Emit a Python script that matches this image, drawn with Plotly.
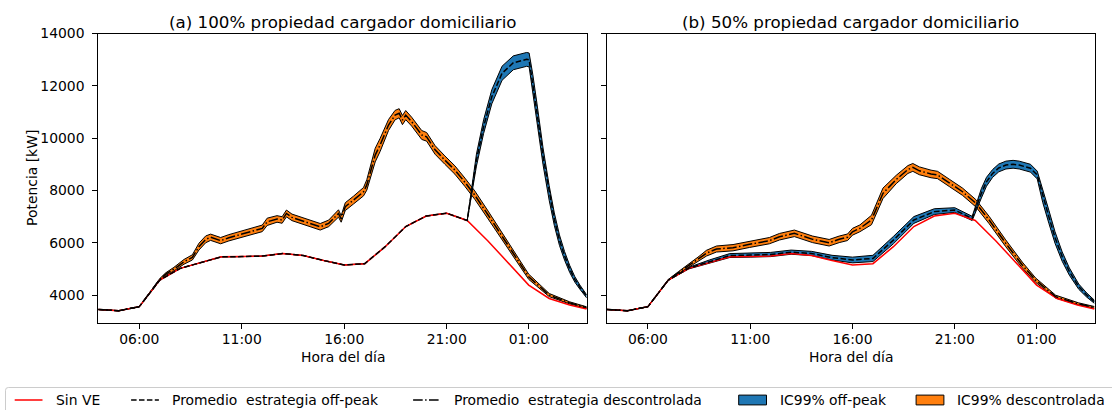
import plotly.graph_objects as go

# ---------------------------------------------------------------- data
# Hour of day (values past 24 belong to the following morning)
BASE_HOURS = [4, 5, 6, 7, 8, 9, 10, 11, 12, 13, 14, 15, 16, 17, 18, 19, 20, 21,
              22, 23, 24, 25, 26, 27, 27.83]
SIN_VE = [3450, 3400, 3555, 4570, 5020, 5240, 5460, 5470, 5490, 5590, 5510, 5320,
          5150, 5200, 5850, 6620, 7020, 7130, 6850, 6080, 5250, 4380, 3870, 3620, 3470]

# (a) 100% home-charger ownership
A_OFFPEAK_H = [4, 5, 6, 7, 8, 9, 10, 11, 12, 13, 14, 15, 16, 17, 18, 19, 20, 21, 22,
               22.45, 22.8, 23.2, 23.7, 24.25, 24.9, 25.02, 25.2, 25.4, 25.7, 26.0,
               26.25, 26.5, 26.75, 27.0, 27.25, 27.5, 27.83]
A_OFFPEAK_MEAN = [3450, 3400, 3555, 4570, 5020, 5240, 5460, 5470, 5490, 5590, 5510,
                  5320, 5150, 5200, 5850, 6620, 7020, 7130, 6850,
                  9160, 10440, 11580, 12480, 12880, 13010, 12990, 12100, 11000, 9300,
                  7900, 6900, 6100, 5500, 5000, 4600, 4300, 3950]
A_OFFPEAK_CI = [0, 0, 0, 0, 0, 0, 0, 0, 0, 0, 0, 0, 0, 0, 0, 0, 0, 0, 0,
                230, 260, 270, 270, 265, 265, 265, 330, 340, 320, 280, 240, 200, 165,
                135, 105, 80, 60]

A_UNCTRL_H = [4, 5, 6, 7, 7.29, 7.69, 8.18, 8.59, 8.91, 9.24, 9.48, 9.97, 10.37,
              10.94, 11.43, 12.0, 12.24, 12.72, 12.97, 13.18, 13.45, 14.1, 14.83,
              15.24, 15.56, 15.72, 15.85, 16.05, 16.45, 16.94, 17.1, 17.51, 17.75,
              18.16, 18.48, 18.68, 18.84, 19.0, 19.29, 19.78, 20.02, 20.43, 20.91,
              21.4, 21.89, 22.37, 23.02, 23.67, 24.24, 25.0, 26.0, 27.0, 27.83]
A_UNCTRL_MEAN = [3450, 3400, 3555, 4600, 4800, 4990, 5270, 5440, 5850, 6130, 6210,
                 6080, 6190, 6320, 6420, 6550, 6800, 6910, 6870, 7120, 6970, 6800,
                 6610, 6740, 6990, 7120, 6910, 7380, 7630, 7950, 8210, 9350, 9740,
                 10500, 10880, 10950, 10690, 10880, 10630, 10120, 10050, 9550, 9160,
                 8780, 8310, 7820, 7060, 6290, 5590, 4700, 4000, 3700, 3520]
A_UNCTRL_CI = [0, 0, 0, 30, 50, 70, 90, 100, 130, 130, 120, 120, 120, 120, 125, 125,
               140, 125, 125, 130, 125, 125, 125, 125, 140, 140, 125, 150, 150, 160,
               200, 260, 250, 210, 180, 175, 175, 175, 170, 170, 165, 165, 160, 160,
               160, 160, 150, 140, 125, 100, 60, 40, 30]

# (b) 50% home-charger ownership
B_OFFPEAK_H = [4, 5, 6, 7, 8, 9, 10, 11, 12, 13, 14, 15, 16, 17, 18, 19, 20, 21,
               21.85, 22.3, 22.55, 22.85, 23.15, 23.5, 23.85, 24.15, 24.7, 25.03,
               25.3, 25.6, 25.9, 26.25, 26.6, 27.06, 27.45, 27.83]
B_OFFPEAK_MEAN = [3450, 3400, 3555, 4570, 5030, 5280, 5510, 5530, 5550, 5640, 5590,
                  5430, 5340, 5400, 6100, 6870, 7190, 7250, 6930, 7890, 8330, 8650,
                  8860, 8970, 9000, 8970, 8850, 8590, 7800, 6990, 6200, 5470, 4900,
                  4320, 4000, 3740]
B_OFFPEAK_CI = [0, 0, 0, 0, 30, 60, 75, 80, 80, 80, 80, 90, 110, 120, 140, 130, 110,
                90, 80, 180, 170, 150, 150, 150, 150, 150, 150, 150, 260, 250, 220,
                180, 140, 100, 80, 60]

B_UNCTRL_H = [4, 5, 6, 7, 7.5, 8.05, 8.5, 8.86, 9.35, 10.16, 10.97, 11.94, 12.43,
              13.16, 14.05, 14.86, 15.35, 15.76, 16.0, 16.36, 16.93, 17.49, 18.14,
              18.71, 18.95, 19.27, 19.84, 20.16, 20.73, 21.38, 22.03, 22.68, 23.49,
              24.3, 24.95, 25.93, 27.06, 27.83]
B_UNCTRL_MEAN = [3450, 3400, 3555, 4580, 4860, 5150, 5400, 5600, 5760, 5810, 5940,
                 6080, 6230, 6360, 6130, 6000, 6130, 6210, 6420, 6550, 6870, 7890,
                 8420, 8800, 8880, 8750, 8630, 8590, 8290, 7950, 7510, 6870, 5980,
                 5150, 4570, 3940, 3660, 3530]
B_UNCTRL_CI = [0, 0, 0, 20, 40, 60, 80, 110, 115, 120, 120, 120, 125, 125, 125, 125,
               125, 125, 130, 130, 180, 200, 160, 150, 150, 150, 145, 140, 140, 140,
               140, 140, 130, 110, 85, 55, 40, 30]

TICK_HOURS = [6, 11, 16, 21, 25]
TICK_LABELS = ["06:00", "11:00", "16:00", "21:00", "01:00"]
Y_TICKS = [4000, 6000, 8000, 10000, 12000, 14000]

TITLES = ["(a) 100% propiedad cargador domiciliario",
          "(b) 50% propiedad cargador domiciliario"]
LEGEND_LABELS = ["Sin VE", "Promedio  estrategia off-peak",
                 "Promedio  estrategia descontrolada", "IC99% off-peak",
                 "IC99% descontrolada"]

# ---------------------------------------------------------------- styling
W, H = 1112, 410
FONT = "DejaVu Sans"
BLUE, ORANGE, RED = "#1f77b4", "#ff7f0e", "#ff0000"
DASH = "5.5px,2.4px"
DASHDOT = "9.6px,2.4px,1.5px,2.4px"
X_RANGE = [4, 27.83]
Y_RANGE = [2920, 14000]


def px_x(x):
    return x / W


def px_y(y):
    return 1 - y / H


fig = go.Figure()


def band(hours, mean, ci, color, xa, ya):
    lower = [m - c for m, c in zip(mean, ci)]
    upper = [m + c for m, c in zip(mean, ci)]
    fig.add_trace(go.Scatter(x=hours, y=lower, mode="lines", xaxis=xa, yaxis=ya,
                             line=dict(color="black", width=1), showlegend=False,
                             hoverinfo="skip"))
    fig.add_trace(go.Scatter(x=hours, y=upper, mode="lines", xaxis=xa, yaxis=ya,
                             fill="tonexty", fillcolor=color,
                             line=dict(color="black", width=1), showlegend=False,
                             hoverinfo="skip"))


panels = [
    ("x", "y", A_OFFPEAK_H, A_OFFPEAK_MEAN, A_OFFPEAK_CI,
     A_UNCTRL_H, A_UNCTRL_MEAN, A_UNCTRL_CI),
    ("x2", "y2", B_OFFPEAK_H, B_OFFPEAK_MEAN, B_OFFPEAK_CI,
     B_UNCTRL_H, B_UNCTRL_MEAN, B_UNCTRL_CI),
]

for xa, ya, oh, om, oc, uh, um, uc in panels:
    band(uh, um, uc, ORANGE, xa, ya)
    band(oh, om, oc, BLUE, xa, ya)
    fig.add_trace(go.Scatter(x=BASE_HOURS, y=SIN_VE, mode="lines", xaxis=xa, yaxis=ya,
                             line=dict(color=RED, width=1.5), showlegend=False))
    fig.add_trace(go.Scatter(x=oh, y=om, mode="lines", xaxis=xa, yaxis=ya,
                             line=dict(color="black", width=1.5, dash=DASH),
                             showlegend=False))
    fig.add_trace(go.Scatter(x=uh, y=um, mode="lines", xaxis=xa, yaxis=ya,
                             line=dict(color="black", width=1.5, dash=DASHDOT),
                             showlegend=False))

axis_common = dict(showline=True, linecolor="black", linewidth=1, mirror=True,
                   ticks="outside", ticklen=5, tickwidth=1, tickcolor="black",
                   showgrid=False, zeroline=False, automargin=False,
                   tickfont=dict(family=FONT, size=13.9, color="black"))

x_dom_a = [px_x(98.3), px_x(586.7)]
x_dom_b = [px_x(607.0), px_x(1094.5)]
y_dom = [px_y(323.3), px_y(33.5)]

fig.update_layout(
    template="none",
    width=W, height=H, autosize=False,
    margin=dict(l=0, r=0, t=0, b=0, pad=0),
    paper_bgcolor="white", plot_bgcolor="white",
    font=dict(family=FONT, size=13.9, color="black"),
    showlegend=False,
    xaxis=dict(domain=x_dom_a, range=X_RANGE, anchor="y", tickvals=TICK_HOURS,
               ticktext=TICK_LABELS, ticklabelstandoff=-2, **axis_common),
    yaxis=dict(domain=y_dom, range=Y_RANGE, anchor="x", tickvals=Y_TICKS,
               ticktext=[str(v) for v in Y_TICKS], ticklabelstandoff=5, **axis_common),
    xaxis2=dict(domain=x_dom_b, range=X_RANGE, anchor="y2", tickvals=TICK_HOURS,
                ticktext=TICK_LABELS, ticklabelstandoff=-2, **axis_common),
    yaxis2=dict(domain=y_dom, range=Y_RANGE, anchor="x2", tickvals=Y_TICKS,
                showticklabels=False, **axis_common),
)

annotations = []
for title, dom in zip(TITLES, (x_dom_a, x_dom_b)):
    cx = (dom[0] + dom[1]) / 2
    annotations.append(dict(text=title, x=cx, y=px_y(21.5), xref="paper", yref="paper",
                            xanchor="center", yanchor="middle", showarrow=False,
                            font=dict(family=FONT, size=16.7, color="black")))
    annotations.append(dict(text="Hora del día", x=cx, y=px_y(356.5), xref="paper",
                            yref="paper", xanchor="center", yanchor="middle",
                            showarrow=False,
                            font=dict(family=FONT, size=13.9, color="black")))
annotations.append(dict(text="Potencia [kW]", x=px_x(32.5), y=px_y(178.4),
                        xref="paper", yref="paper", xanchor="center", yanchor="middle",
                        textangle=-90, showarrow=False,
                        font=dict(family=FONT, size=13.9, color="black")))

# legend strip along the bottom edge
shapes = []
r = 2.8
x0, y0, x1, y1 = 5.5, 387.5, 1125, 425
shapes.append(dict(type="path", xref="paper", yref="paper",
                   path=(f"M {px_x(x0)},{px_y(y1)} L {px_x(x0)},{px_y(y0 + r)} "
                         f"Q {px_x(x0)},{px_y(y0)} {px_x(x0 + r)},{px_y(y0)} "
                         f"L {px_x(x1)},{px_y(y0)} L {px_x(x1)},{px_y(y1)} Z"),
                   line=dict(color="#cccccc", width=1), fillcolor="rgba(255,255,255,0.8)"))

LEG_Y = 400
text_starts = [53.6, 170, 452, 777.6, 955]
handle_styles = [("line", RED, None), ("line", "black", DASH),
                 ("line", "black", DASHDOT), ("patch", BLUE, None),
                 ("patch", ORANGE, None)]
for label, tx, (kind, color, dash) in zip(LEGEND_LABELS, text_starts, handle_styles):
    hx1 = tx - 11.1
    hx0 = hx1 - 27.8
    if kind == "line":
        ln = dict(color=color, width=1.5)
        if dash:
            ln["dash"] = dash
        shapes.append(dict(type="line", xref="paper", yref="paper",
                           x0=px_x(hx0), x1=px_x(hx1), y0=px_y(LEG_Y), y1=px_y(LEG_Y),
                           line=ln))
    else:
        shapes.append(dict(type="rect", xref="paper", yref="paper",
                           x0=px_x(hx0), x1=px_x(hx1),
                           y0=px_y(LEG_Y + 4.9), y1=px_y(LEG_Y - 4.9),
                           fillcolor=color, line=dict(color="black", width=1)))
    annotations.append(dict(text=label, x=px_x(tx), y=px_y(LEG_Y), xref="paper",
                            yref="paper", xanchor="left", yanchor="middle",
                            showarrow=False,
                            font=dict(family=FONT, size=13.9, color="black")))

fig.update_layout(annotations=annotations, shapes=shapes)

fig.write_html("out.html")
